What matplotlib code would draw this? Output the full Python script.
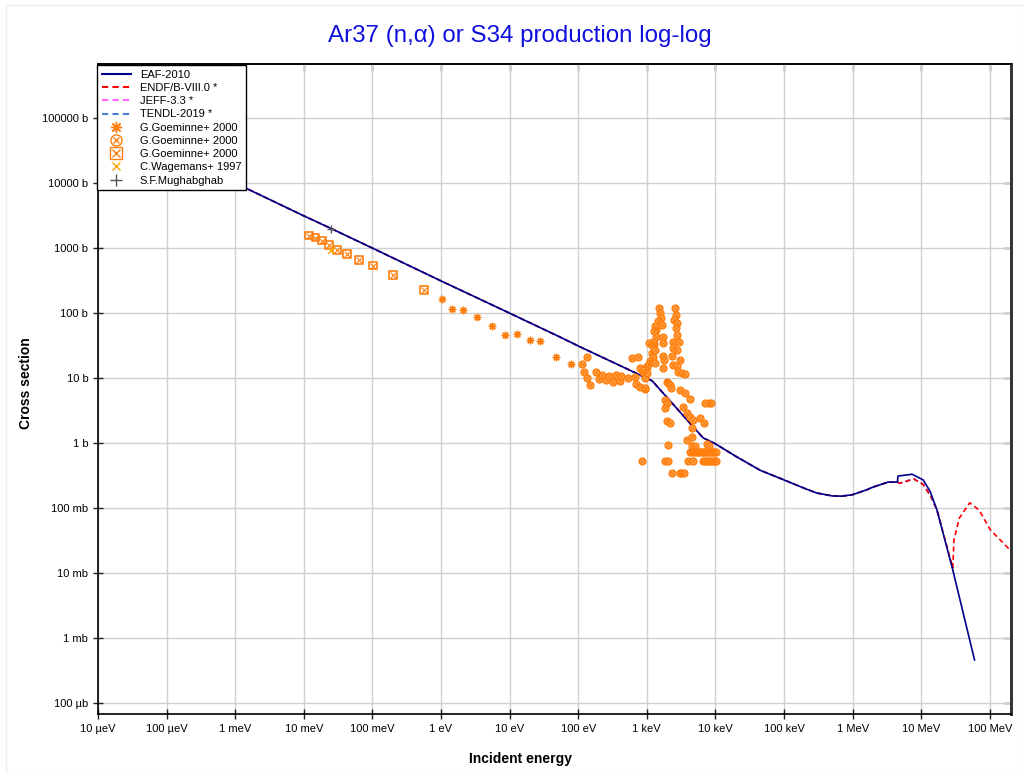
import numpy as np
import matplotlib
matplotlib.use("Agg")
import matplotlib.pyplot as plt
from matplotlib.lines import Line2D
from matplotlib.legend_handler import HandlerTuple

plt.rcParams['font.family'] = ['Liberation Sans', 'DejaVu Sans']

# evaluated curves (energy in eV, cross section in b)
eval_e = [1e-5, 1e-4, 1e-3, 1e-2, 0.0253, 0.1, 1.0, 10.0, 54.0, 100.0, 1000.0,
          1200.0, 6600.0, 10000.0, 20000.0, 45000.0, 100000.0, 200000.0,
          300000.0, 510000.0, 700000.0, 1.0e6, 1.6e6, 2.0e6, 3.3e6, 4.5e6]
eval_xs = [99000, 31000, 9900, 3100, 1970, 990, 310, 99, 42.6, 31, 9.9,
           9.0, 1.2, 0.97, 0.62, 0.38, 0.27, 0.2,
           0.17, 0.153, 0.152, 0.16, 0.19, 0.21, 0.25, 0.25]

eaf_tail_e = [4.6e6, 7.4e6, 10.7e6, 13.5e6, 17e6, 29e6, 60e6]
eaf_tail_xs = [0.31, 0.33, 0.27, 0.18, 0.093, 0.011, 4.6e-4]

endf_tail_e = [4.9e6, 7.8e6, 10.7e6, 13.9e6, 17e6, 29e6, 30e6, 36e6, 51e6, 70e6, 102e6, 195e6]
endf_tail_xs = [0.24, 0.28, 0.23, 0.15, 0.093, 0.012, 0.032, 0.07, 0.12, 0.093, 0.046, 0.023]

jeff_tail_e = [4.9e6, 7.8e6, 10.7e6, 13.9e6, 17e6, 20e6]
jeff_tail_xs = [0.24, 0.28, 0.23, 0.15, 0.093, 0.05]

# experimental data
goem_ast_e = [1.05, 1.43, 2.07, 3.31, 5.62, 8.6, 12.9, 20.0, 27.5, 47.9, 79.4]
goem_ast_xs = [166, 114, 111, 85, 62, 45, 48, 38, 37, 21, 16.4]

goem_box_e = [0.012, 0.0148, 0.0184, 0.0234, 0.0309, 0.0427, 0.063, 0.102, 0.2, 0.56]
goem_box_xs = [1546, 1440, 1295, 1112, 922, 800, 646, 534, 385, 226]

goem_circ_e = [133, 112, 123, 133, 151, 182, 204, 224, 257, 282, 324, 355, 407, 417, 537,
               617, 741, 676, 692, 794, 933, 851,
               794, 891, 1020, 1120, 1180, 1270, 1090, 1380, 940, 1020,
               1510, 1550, 1590, 1480, 1640, 1320, 1270, 1350, 1240, 1740, 1700, 1180,
               1320, 1240, 1120, 1320, 1700, 1780, 1000, 890, 1740,
               2570, 2660, 2510, 2720, 2660, 2790, 2430, 2950, 2430, 2720, 2370, 3020,
               2430, 2790, 2880, 3240, 3590, 1950, 2070,
               2190, 2290, 933, 1820, 1950, 1820, 3020, 3590, 4270, 3390, 3800, 4270,
               4790, 6030, 6760, 7940, 7080, 8710, 2000, 2190, 4520, 3800, 4520, 2070,
               4520, 5010, 7500, 8000,
               4300, 4600, 4900, 5200, 5500, 5800, 6100, 6500, 6900, 7300, 7700, 8100,
               8600, 9100, 9600, 10200,
               1840, 2040, 4000, 4700, 6500, 7000, 7500, 8000, 8600, 9200, 9800, 10300,
               2300, 3000, 3200, 3500]
goem_circ_xs = [20.8, 16.2, 12.2, 10.1, 7.8, 12.2, 9.5, 11.2, 9.3, 10.8, 8.6, 11.2, 9.1, 10.8, 9.9,
                20.1, 21.3, 10.5, 8.1, 7.3, 6.8, 0.53,
                14.1, 12.5, 14.9, 17.8, 24, 33, 34, 55, 9.9, 11.8,
                118, 99, 83, 74, 65, 62, 52, 43, 36, 43, 34, 32,
                27, 21, 18, 17, 22, 19, 15, 13, 14,
                118, 93, 78, 70, 58, 46, 36, 36, 29, 27, 22, 19,
                16, 15, 12.5, 11.8, 11.5, 8.8, 8.3,
                7.8, 6.9, 6.9, 4.6, 4.1, 3.4, 6.5, 5.8, 4.8, 3.6, 2.9, 2.5,
                2.25, 2.4, 2.0, 4.1, 4.1, 4.1, 2.2, 2.0, 1.7, 1.1, 1.25, 0.93,
                0.9, 0.9, 0.95, 0.9,
                0.73, 0.72, 0.73, 0.72, 0.73, 0.72, 0.73, 0.72, 0.73, 0.72, 0.73, 0.72,
                0.73, 0.72, 0.73, 0.72,
                0.52, 0.52, 0.52, 0.52, 0.52, 0.52, 0.52, 0.52, 0.52, 0.52, 0.52, 0.52,
                0.34, 0.34, 0.34, 0.34]

wagemans_e = [0.0253]
wagemans_xs = [910]

mughabghab_e = [0.0253]
mughabghab_xs = [1970]

xticks = [1e-5, 1e-4, 1e-3, 1e-2, 1e-1, 1, 10, 100, 1e3, 1e4, 1e5, 1e6, 1e7, 1e8]
xtick_labels = ['10 µeV', '100 µeV', '1 meV', '10 meV', '100 meV', '1 eV', '10 eV',
                '100 eV', '1 keV', '10 keV', '100 keV', '1 MeV', '10 MeV', '100 MeV']
yticks = [1e-4, 1e-3, 1e-2, 1e-1, 1, 10, 100, 1e3, 1e4, 1e5]
ytick_labels = ['100 µb', '1 mb', '10 mb', '100 mb', '1 b', '10 b', '100 b',
                '1000 b', '10000 b', '100000 b']

orange = '#FF7F0E'

fig = plt.figure(figsize=(10.24, 7.74), dpi=100)
ax = fig.add_axes([98 / 1024, 60 / 774, 913 / 1024, 650 / 774])
ax.set_xscale('log')
ax.set_yscale('log')

jeff_e = eval_e + jeff_tail_e
jeff_xs = eval_xs + jeff_tail_xs
ax.plot(jeff_e, jeff_xs, color='#FF66FF', ls=(0, (3, 2)), lw=1.2, zorder=2)
ax.plot(jeff_e, jeff_xs, color='#4A7FD4', ls=(0, (3, 2)), lw=1.2, zorder=2)
ax.plot(eval_e + endf_tail_e, eval_xs + endf_tail_xs, color='#FF0000', ls=(0, (3, 2)),
        lw=1.2, zorder=3)
ax.plot(eval_e + eaf_tail_e, eval_xs + eaf_tail_xs, color='#00008B', lw=1.2, zorder=4)

ax.scatter(goem_ast_e, goem_ast_xs, marker=(8, 2, 0), s=22, color=orange, lw=1.0, zorder=5)
ax.scatter(goem_circ_e, goem_circ_xs, marker='o', s=24, facecolor='#FFA550',
           edgecolor=orange, lw=1.0, zorder=5)
ax.scatter(goem_circ_e, goem_circ_xs, marker='x', s=11, color=orange, lw=0.7, zorder=5)
ax.scatter(goem_box_e, goem_box_xs, marker='s', s=32, facecolor='none',
           edgecolor=orange, lw=1.2, zorder=5)
ax.scatter(goem_box_e, goem_box_xs, marker='x', s=18, color=orange, lw=0.8, zorder=5)
ax.scatter(wagemans_e, wagemans_xs, marker='x', s=22, color='#FFA500', lw=1.0, zorder=5)
ax.scatter(mughabghab_e, mughabghab_xs, marker='+', s=40, color='#555555', lw=1.0, zorder=6)

ax.set_xlim(1e-5, 2.04e8)
ax.set_ylim(6.8e-5, 6.7e5)
ax.set_xticks(xticks)
ax.set_xticklabels(xtick_labels)
ax.set_yticks(yticks)
ax.set_yticklabels(ytick_labels)
ax.minorticks_off()
ax.tick_params(axis='both', which='major', labelsize=8, length=7, width=1,
               direction='inout', color='#222222')
ax.tick_params(axis='x', which='major', top=False)
ax.tick_params(axis='y', which='major', right=False)
sec_x = ax.secondary_xaxis('top')
sec_x.set_xticks(xticks)
sec_x.set_xticklabels([])
sec_x.tick_params(direction='in', length=5, width=1, color='#222222')
sec_y = ax.secondary_yaxis('right')
sec_y.set_yticks(yticks)
sec_y.set_yticklabels([])
sec_y.tick_params(direction='in', length=5, width=1, color='#222222')
sec_x.spines['top'].set_linewidth(1.2)
sec_y.spines['right'].set_color('#333333')
sec_y.spines['right'].set_linewidth(2)
sec_x.minorticks_off()
sec_y.minorticks_off()

for lab in ax.get_xticklabels() + ax.get_yticklabels():
    lab.set_family(['Liberation Sans Narrow', 'Liberation Sans', 'DejaVu Sans'])
ax.grid(True, color='#D0D0D0', lw=1)
ax.set_axisbelow(True)
for side in ['left', 'bottom', 'top']:
    ax.spines[side].set_color('black')
    ax.spines[side].set_linewidth(1.2)
ax.spines['right'].set_color('#333333')
ax.spines['right'].set_linewidth(2)

h_eaf = Line2D([], [], color='#00008B', lw=1.5)
h_endf = Line2D([], [], color='#FF0000', lw=1.5, ls=(0, (3, 2)))
h_jeff = Line2D([], [], color='#FF66FF', lw=1.5, ls=(0, (3, 2)))
h_tendl = Line2D([], [], color='#4A7FD4', lw=1.5, ls=(0, (3, 2)))
h_ast = Line2D([], [], ls='none', marker=(8, 2, 0), ms=8, color=orange, mew=1)
h_circ = (Line2D([], [], ls='none', marker='o', ms=8, mfc='none', mec=orange, mew=1),
          Line2D([], [], ls='none', marker='x', ms=5, color=orange, mew=1))
h_box = (Line2D([], [], ls='none', marker='s', ms=8, mfc='none', mec=orange, mew=1),
         Line2D([], [], ls='none', marker='x', ms=6, color=orange, mew=1))
h_wag = Line2D([], [], ls='none', marker='x', ms=6, color='#FFA500', mew=1)
h_mug = Line2D([], [], ls='none', marker='+', ms=8, color='#555555', mew=1)

leg = ax.legend([h_eaf, h_endf, h_jeff, h_tendl, h_ast, h_circ, h_box, h_wag, h_mug],
                ['EAF-2010', 'ENDF/B-VIII.0 *', 'JEFF-3.3 *', 'TENDL-2019 *',
                 'G.Goeminne+ 2000', 'G.Goeminne+ 2000', 'G.Goeminne+ 2000',
                 'C.Wagemans+ 1997', 'S.F.Mughabghab'],
                handler_map={tuple: HandlerTuple(ndivide=1)},
                loc='upper left', bbox_to_anchor=(-0.001, 0.998), fontsize=8,
                fancybox=False, framealpha=1, edgecolor='black',
                labelspacing=0.29, handlelength=2.65, borderpad=0.4, borderaxespad=0)
leg.get_frame().set_linewidth(1.0)
leg.set_zorder(10)

fig.text(0.508, 0.953, 'Ar37 (n,α) or S34 production log-log', color='#1010DD',
         fontsize=17.4, ha='center', va='center')
fig.text(0.508, 0.02, 'Incident energy', fontsize=10, fontweight='bold',
         ha='center', va='center')
fig.text(0.025, 0.505, 'Cross section', fontsize=10, fontweight='bold', rotation=90,
         ha='center', va='center')
fig.patches.append(plt.Rectangle((6 / 1024, 0), 1 - 6 / 1024, 1 - 5 / 774,
                                 transform=fig.transFigure, fill=False,
                                 edgecolor='#EEEEEE', lw=1))

fig.savefig('out.png', dpi=100)
